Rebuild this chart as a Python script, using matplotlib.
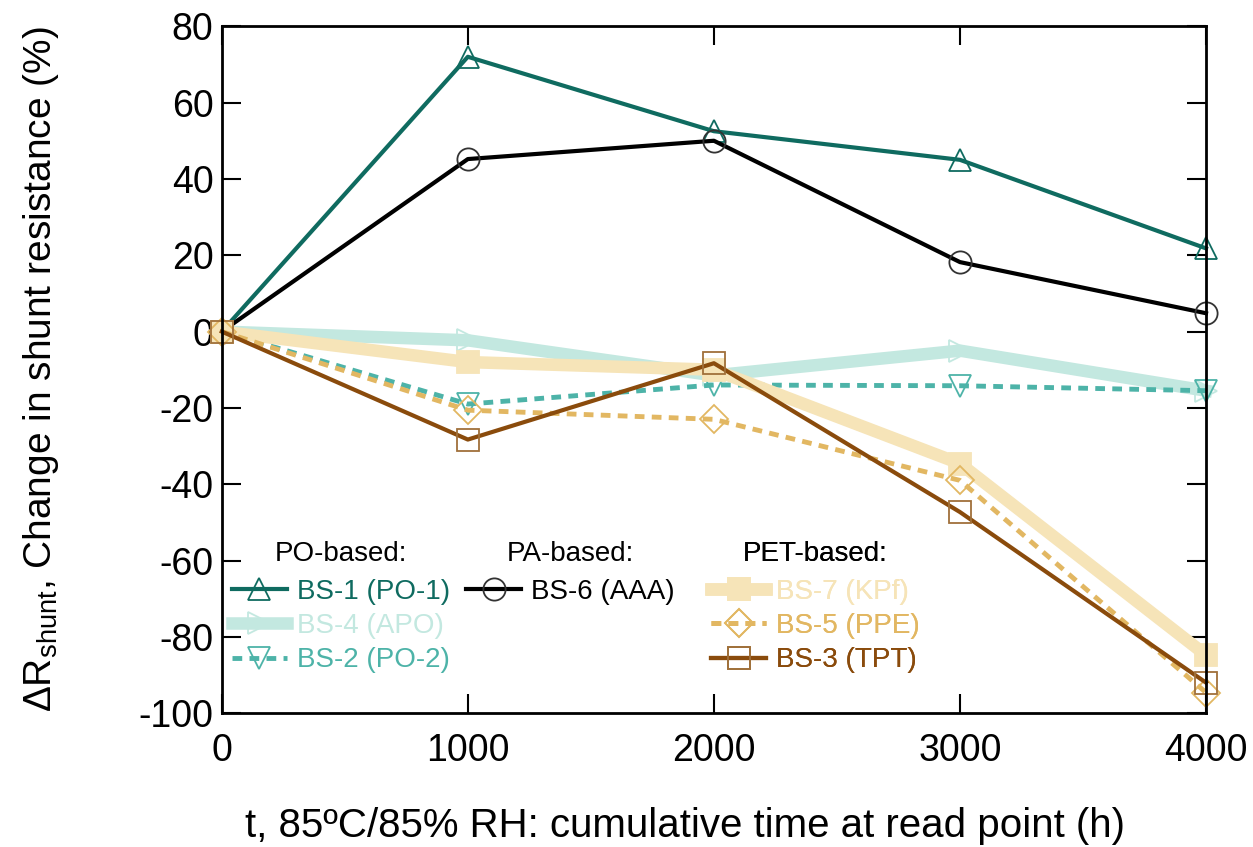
import numpy as np
import matplotlib.pyplot as plt

plt.rcParams['font.family'] = ['Liberation Sans', 'DejaVu Sans']
plt.rcParams['mathtext.fontset'] = 'custom'
plt.rcParams['mathtext.rm'] = 'Liberation Sans'
plt.rcParams['mathtext.it'] = 'Liberation Sans'
plt.rcParams['axes.unicode_minus'] = False

hours = [0, 1000, 2000, 3000, 4000]

bs1 = [0, 72, 52.5, 45, 21.8]
bs4 = [0, -2.3, -11.5, -5, -15.5]
bs2 = [0, -19, -14, -14.2, -15.5]
bs6 = [0, 45.2, 50, 18.2, 4.8]
bs7 = [0, -8, -10, -34.6, -84.8]
bs5 = [0, -20.6, -23, -39, -94.6]
bs3 = [0, -28.3, -8.3, -47.3, -92]

fig = plt.figure(figsize=(12.53, 8.47), dpi=100)
ax = fig.add_axes([0.177, 0.158, 0.7855, 0.811])

c1 = '#0f6b60'
c4 = '#c3e8e0'
c2 = '#4db3a8'
c7 = '#f6e4b8'
c5 = '#e2b762'
c3 = '#8a4b0c'

common = dict(clip_on=False, mew=1.3)
l1, = ax.plot(hours, bs1, color=c1, lw=3, marker='^', ms=16, mfc='none', mec=c1,
              label='BS-1 (PO-1)', **common)
l4, = ax.plot(hours, bs4, color=c4, lw=9, marker='>', ms=16, mfc='none', mec=c4,
              label='BS-4 (APO)', **common)
l2, = ax.plot(hours, bs2, color=c2, lw=3.5, ls=(0, (2, 1.5)), marker='v', ms=16, mfc='none',
              mec=c2, label='BS-2 (PO-2)', **common)
l6, = ax.plot(hours, bs6, color='black', lw=3, marker='o', ms=16, mfc='none', mec='#333333',
              label='BS-6 (AAA)', **common)
l7, = ax.plot(hours, bs7, color=c7, lw=9, marker='s', ms=16, mfc=c7, mec=c7,
              label='BS-7 (KPf)', **common)
l5, = ax.plot(hours, bs5, color=c5, lw=3.5, ls=(0, (2, 1.5)), marker='D', ms=14, mfc='none',
              mec=c5, label='BS-5 (PPE)', **common)
l3, = ax.plot(hours, bs3, color=c3, lw=3, marker='s', ms=16, mfc='none', mec='#a0703a',
              label='BS-3 (TPT)', **common)

ax.set_xlim(0, 4000)
ax.set_ylim(-100, 80)
ax.set_xticks(hours)
ax.set_yticks(np.arange(-100, 81, 20))
ax.tick_params(direction='in', length=14, width=1.5, labelsize=27, top=True, right=True, pad=6)
ax.tick_params(axis='x', pad=14)
for s in ax.spines.values():
    s.set_linewidth(2)

ax.set_xlabel('t, 85\u00baC/85% RH: cumulative time at read point (h)', fontsize=29)
ax.xaxis.set_label_coords(0.471, -0.136)
ax.set_ylabel(r'$\Delta$R$_{\mathrm{shunt}}$, Change in shunt resistance (%)', fontsize=28,
              labelpad=56)

def group_legend(handles, title, loc, anchor):
    leg = ax.legend(handles=handles, title=title, loc=loc, bbox_to_anchor=anchor,
                    frameon=False, fontsize=20, title_fontsize=20, handlelength=2.0,
                    handletextpad=0.35, labelspacing=0.3, borderaxespad=0, borderpad=0)
    leg._legend_box.sep = 8
    for txt, h in zip(leg.get_texts(), handles):
        txt.set_color(h.get_color())
    ax.add_artist(leg)
    return leg

group_legend([l1, l4, l2], 'PO-based:', 'upper left', (0.01, 0.25))
group_legend([l6], 'PA-based:', 'upper left', (0.248, 0.25))
group_legend([l7, l5, l3], 'PET-based:', 'upper left', (0.497, 0.25))

fig.savefig('out.png', dpi=100)
